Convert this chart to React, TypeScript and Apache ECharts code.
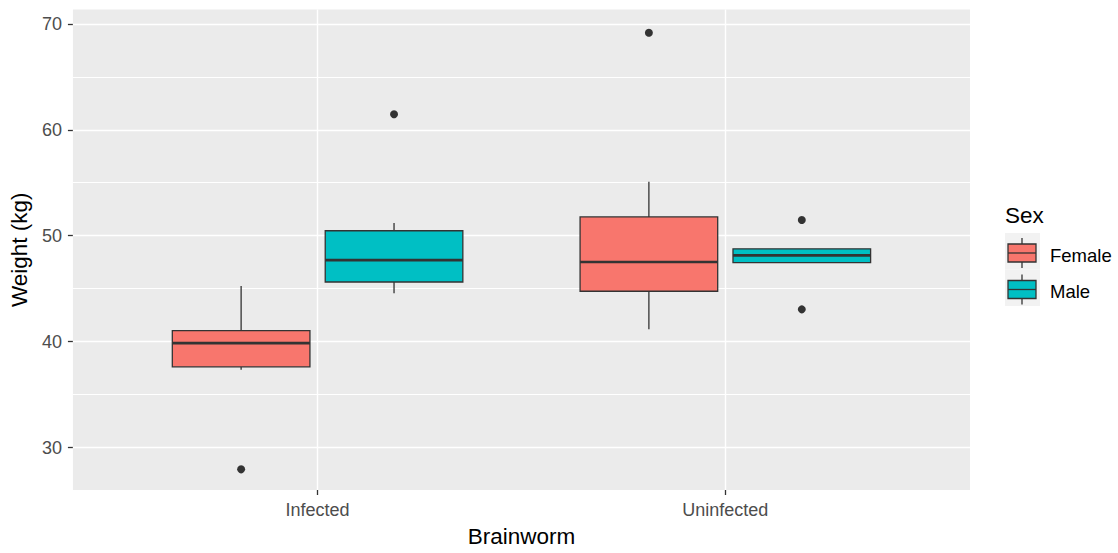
import React, { useEffect, useRef } from "react";
import * as echarts from "echarts";

// ---- data ----
const categories = ["Infected", "Uninfected"];
const sexes = ["Female", "Male"];
// [low whisker, Q1, median, Q3, high whisker] per category
const femaleStats = [
  [37.35, 37.63, 39.86, 41.04, 45.26],
  [41.16, 44.76, 47.52, 51.77, 55.09],
];
const maleStats = [
  [44.57, 45.63, 47.7, 50.47, 51.21],
  [47.46, 47.46, 48.14, 48.76, 48.76],
];
// [categoryIndex, value]
const femaleOutliers = [
  [0, 27.95],
  [1, 69.15],
];
const maleOutliers = [
  [0, 61.47],
  [1, 51.49],
  [1, 43.05],
];
const yTickValues = [30, 40, 50, 60, 70];
const yMinorValues = [35, 45, 55, 65];
const xTickValues = [1, 2];

// ---- styles ----
const COLORS = ["#F8766D", "#00BFC4"];
const OUTLINE = "#333333";
const FONT = "'Liberation Sans', Arial, sans-serif";
const DODGE = 0.1875;
const BOX_W = 0.3375;

function boxData(stats: number[][], sexIdx: number) {
  const off = sexIdx === 0 ? -DODGE : DODGE;
  return stats.map((s, i) => [i + 1 + off, ...s]);
}
function outlierData(list: number[][], sexIdx: number) {
  const off = sexIdx === 0 ? -DODGE : DODGE;
  return list.map(([c, v]) => [c + 1 + off, v]);
}

function makeBoxSeries(name: string, data: number[][], color: string) {
  return {
    type: "custom",
    name,
    z: 2,
    dimensions: ["x", "low", "q1", "med", "q3", "high"],
    encode: { x: 0, y: [1, 2, 3, 4, 5] },
    data,
    renderItem: (params: any, api: any) => {
      const x = api.value(0);
      const lo = api.coord([x, api.value(1)]);
      const q1 = api.coord([x, api.value(2)]);
      const med = api.coord([x, api.value(3)]);
      const q3 = api.coord([x, api.value(4)]);
      const hi = api.coord([x, api.value(5)]);
      const w = api.size([BOX_W, 0])[0];
      const cx = lo[0];
      const lineStyle = { stroke: OUTLINE, lineWidth: 1.3 };
      return {
        type: "group",
        children: [
          { type: "line", shape: { x1: cx, y1: hi[1], x2: cx, y2: q3[1] }, style: lineStyle },
          { type: "line", shape: { x1: cx, y1: q1[1], x2: cx, y2: lo[1] }, style: lineStyle },
          {
            type: "rect",
            shape: { x: cx - w / 2, y: q3[1], width: w, height: q1[1] - q3[1] },
            style: { fill: color, stroke: OUTLINE, lineWidth: 1.3 },
          },
          {
            type: "line",
            shape: { x1: cx - w / 2, y1: med[1], x2: cx + w / 2, y2: med[1] },
            style: { stroke: OUTLINE, lineWidth: 2.6 },
          },
        ],
      };
    },
  };
}

function legendKey(y: number, color: string) {
  // y: top of key cell (cell height 36.5)
  const cx = 1022;
  const boxTop = y + 11;
  const boxBot = y + 29;
  return [
    { type: "rect", shape: { x: 1005, y, width: 35, height: 36.5 }, style: { fill: "#F2F2F2" }, z: 10 },
    { type: "line", shape: { x1: cx, y1: y + 5, x2: cx, y2: boxTop }, style: { stroke: OUTLINE, lineWidth: 1.3 }, z: 11 },
    { type: "line", shape: { x1: cx, y1: boxBot, x2: cx, y2: y + 35 }, style: { stroke: OUTLINE, lineWidth: 1.3 }, z: 11 },
    {
      type: "rect",
      shape: { x: 1008, y: boxTop, width: 28, height: boxBot - boxTop },
      style: { fill: color, stroke: OUTLINE, lineWidth: 1.3 },
      z: 11,
    },
    {
      type: "line",
      shape: { x1: 1008, y1: (boxTop + boxBot) / 2, x2: 1036, y2: (boxTop + boxBot) / 2 },
      style: { stroke: OUTLINE, lineWidth: 1.3 },
      z: 12,
    },
  ];
}

export default function App() {
  const ref = useRef<HTMLDivElement>(null);

  useEffect(() => {
    if (!ref.current) return;
    const chart = echarts.init(ref.current, null, { renderer: "svg" });

    const gridLines = [
      ...yTickValues.map((v) => ({ yAxis: v, lineStyle: { color: "#FFFFFF", width: 1.4, type: "solid" } })),
      ...yMinorValues.map((v) => ({ yAxis: v, lineStyle: { color: "#FFFFFF", width: 1.0, type: "solid" } })),
      ...xTickValues.map((v) => ({ xAxis: v, lineStyle: { color: "#FFFFFF", width: 1.4, type: "solid" } })),
    ];

    const option: any = {
      animation: false,
      textStyle: { fontFamily: FONT },
      grid: {
        left: 69,
        top: 9.5,
        width: 901,
        height: 487.5,
        show: true,
        backgroundColor: "#EBEBEB",
        borderWidth: 0,
      },
      xAxis: {
        type: "value",
        min: 0.4,
        max: 2.6,
        name: "Brainworm",
        nameLocation: "middle",
        nameGap: 35,
        nameTextStyle: { fontSize: 22.5, color: "#000000", fontFamily: FONT },
        axisLine: { show: false },
        splitLine: { show: false },
        axisTick: {
          show: true,
          customValues: xTickValues,
          length: 5,
          lineStyle: { color: OUTLINE, width: 1.3 },
        },
        axisLabel: {
          customValues: xTickValues,
          formatter: (v: number) => categories[Math.round(v) - 1] ?? "",
          fontSize: 18,
          color: "#4D4D4D",
          margin: 11,
          fontFamily: FONT,
        },
      },
      yAxis: {
        type: "value",
        min: 26.0,
        max: 71.35,
        name: "Weight (kg)",
        nameLocation: "middle",
        nameRotate: 90,
        nameGap: 37,
        nameTextStyle: { fontSize: 22.5, color: "#000000", fontFamily: FONT },
        axisLine: { show: false },
        splitLine: { show: false },
        axisTick: {
          show: true,
          customValues: yTickValues,
          length: 5,
          lineStyle: { color: OUTLINE, width: 1.3 },
        },
        axisLabel: {
          customValues: yTickValues,
          fontSize: 18,
          color: "#4D4D4D",
          margin: 11,
          fontFamily: FONT,
        },
      },
      series: [
        {
          type: "scatter",
          name: "outliers-f",
          z: 3,
          symbol: "circle",
          symbolSize: 8,
          itemStyle: { color: OUTLINE, opacity: 1 },
          data: outlierData(femaleOutliers, 0),
          markLine: {
            silent: true,
            z: 1,
            symbol: ["none", "none"],
            label: { show: false },
            emphasis: { disabled: true },
            data: gridLines,
          },
        },
        makeBoxSeries(sexes[0], boxData(femaleStats, 0), COLORS[0]),
        makeBoxSeries(sexes[1], boxData(maleStats, 1), COLORS[1]),
        {
          type: "scatter",
          name: "outliers-m",
          z: 3,
          symbol: "circle",
          symbolSize: 8,
          itemStyle: { color: OUTLINE, opacity: 1 },
          data: outlierData(maleOutliers, 1),
        },
      ],
      graphic: [
        {
          type: "text",
          left: 1005,
          top: 204,
          style: { text: "Sex", fontSize: 22.5, fill: "#000000", fontFamily: FONT },
          z: 10,
        },
        ...legendKey(233, COLORS[0]),
        ...legendKey(269.5, COLORS[1]),
        {
          type: "text",
          x: 1050,
          y: 255,
          style: { text: sexes[0], fontSize: 18.5, fill: "#000000", fontFamily: FONT, verticalAlign: "middle" },
          z: 10,
        },
        {
          type: "text",
          x: 1050,
          y: 291.5,
          style: { text: sexes[1], fontSize: 18.5, fill: "#000000", fontFamily: FONT, verticalAlign: "middle" },
          z: 10,
        },
      ],
    };

    chart.setOption(option);
    return () => chart.dispose();
  }, []);

  return (
    <div
      ref={ref}
      style={{ position: "fixed", left: 0, top: 0, width: 1118, height: 553, background: "#FFFFFF" }}
    />
  );
}
